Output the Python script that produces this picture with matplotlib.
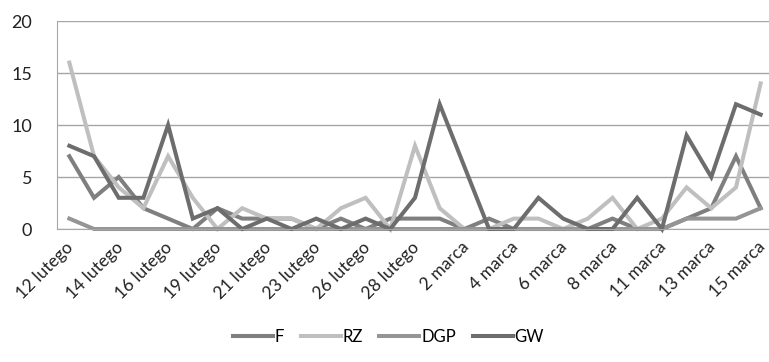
import matplotlib
matplotlib.use('Agg')
import matplotlib.pyplot as plt
import matplotlib.transforms as mtransforms
import numpy as np

# Daily counts, 12 Feb - 15 Mar (tick label on every other day)
dates = ['12 lutego', '13 lutego', '14 lutego', '15 lutego', '16 lutego', '18 lutego',
         '19 lutego', '20 lutego', '21 lutego', '22 lutego', '23 lutego', '25 lutego',
         '26 lutego', '27 lutego', '28 lutego', '1 marca', '2 marca', '3 marca',
         '4 marca', '5 marca', '6 marca', '7 marca', '8 marca', '10 marca',
         '11 marca', '12 marca', '13 marca', '14 marca', '15 marca']

f_vals = [7, 3, 5, 2, 1, 0, 2, 1, 1, 1, 0, 1, 0, 1, 1, 1, 0, 1, 0, 0, 0, 0, 1, 0, 0, 1, 2, 7, 2]
rz_vals = [16, 7, 4, 2, 7, 3, 0, 2, 1, 1, 0, 2, 3, 0, 8, 2, 0, 0, 1, 1, 0, 1, 3, 0, 1, 4, 2, 4, 14]
dgp_vals = [1, 0, 0, 0, 0, 0, 0, 0, 0, 0, 0, 0, 0, 0, 0, 0, 0, 0, 0, 0, 0, 0, 0, 0, 0, 1, 1, 1, 2]
gw_vals = [8, 7, 3, 3, 10, 1, 2, 0, 1, 0, 1, 0, 1, 0, 3, 12, 6, 0, 0, 3, 1, 0, 0, 3, 0, 9, 5, 12, 11]

series = [('F', f_vals, '#7f7f7f'),
          ('RZ', rz_vals, '#bfbfbf'),
          ('DGP', dgp_vals, '#959595'),
          ('GW', gw_vals, '#6d6d6d')]

plt.rcParams['font.family'] = ['Lato', 'DejaVu Sans']

fig = plt.figure(figsize=(7.69, 3.62), dpi=100)
ax = fig.add_axes([57 / 769, 133 / 362, 716 / 769, 208 / 362])

x = np.arange(len(dates))
for name, vals, color in series:
    ax.plot(x, vals, color=color, linewidth=2.9, label=name,
            solid_joinstyle='miter', clip_on=False)

ax.set_xlim(-0.5, len(dates) - 0.5)
ax.set_ylim(0, 20)
ax.set_yticks([0, 5, 10, 15, 20])
ax.yaxis.grid(True, color='#a6a6a6', linewidth=1.0)
ax.set_axisbelow(True)

ax.set_xticks(x[::2])
ax.set_xticklabels(dates[::2], rotation=45, ha='right', rotation_mode='anchor',
                   fontsize=12.5, color='#222222')
ax.tick_params(axis='x', length=0, pad=5)
ax.tick_params(axis='y', length=0, pad=18, labelsize=13, labelcolor='#222222')

# nudge rotated labels a bit left so the last one stays inside
shift = mtransforms.ScaledTranslation(-4 / 100, -3 / 100, fig.dpi_scale_trans)
for lbl in ax.get_xticklabels():
    lbl.set_transform(lbl.get_transform() + shift)

for side in ['top', 'right']:
    ax.spines[side].set_visible(False)
ax.spines['left'].set_color('#a6a6a6')
ax.spines['bottom'].set_color('#a6a6a6')

fig.legend(loc='center', bbox_to_anchor=(0.505, 0.07), ncol=4, frameon=False,
           fontsize=12, handlelength=2.4, handletextpad=0.1, columnspacing=1.0)

fig.savefig('out.png', dpi=100)
